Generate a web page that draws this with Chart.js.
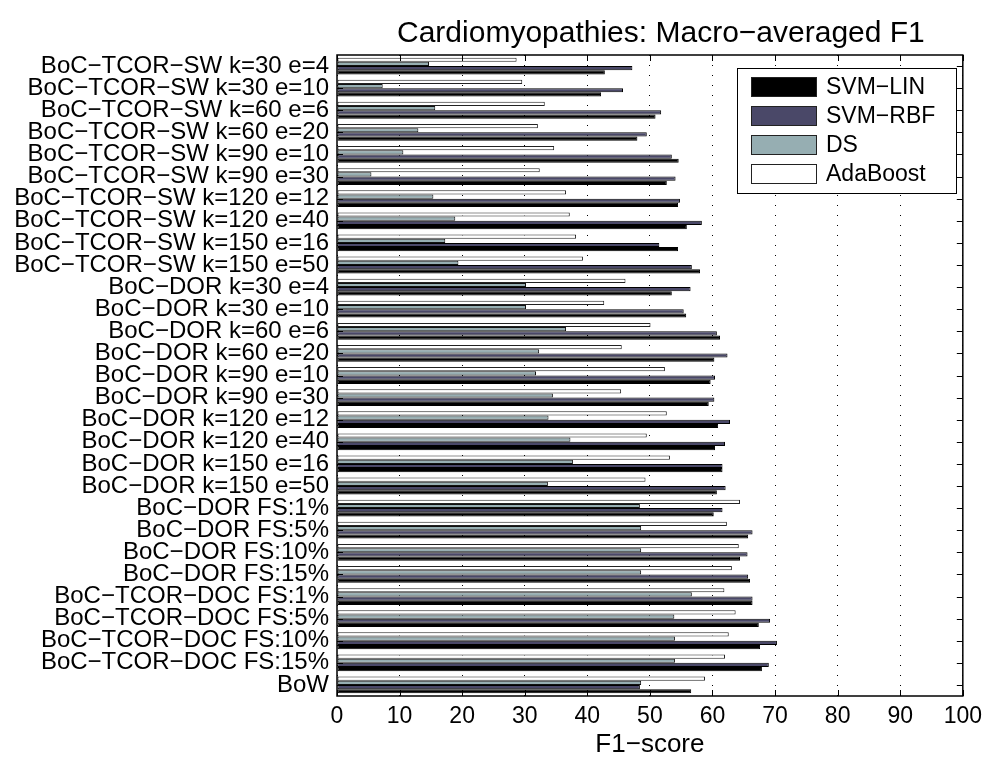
<!DOCTYPE html>
<html>
<head>
<meta charset="utf-8">
<script src="https://cdn.jsdelivr.net/npm/chart.js@4/dist/chart.umd.min.js"></script>
<style>
  html, body { margin: 0; padding: 0; background: #fff; }
  #wrap { width: 989px; height: 764px; position: relative; }
</style>
</head>
<body>
<div id="wrap"><canvas id="c" width="989" height="764"></canvas></div>
<script>
const chartTitle = "Cardiomyopathies: Macro\u2212averaged F1";
const xAxisTitle = "F1\u2212score";

const categories = [
  "BoC\u2212TCOR\u2212SW k=30 e=4",
  "BoC\u2212TCOR\u2212SW k=30 e=10",
  "BoC\u2212TCOR\u2212SW k=60 e=6",
  "BoC\u2212TCOR\u2212SW k=60 e=20",
  "BoC\u2212TCOR\u2212SW k=90 e=10",
  "BoC\u2212TCOR\u2212SW k=90 e=30",
  "BoC\u2212TCOR\u2212SW k=120 e=12",
  "BoC\u2212TCOR\u2212SW k=120 e=40",
  "BoC\u2212TCOR\u2212SW k=150 e=16",
  "BoC\u2212TCOR\u2212SW k=150 e=50",
  "BoC\u2212DOR k=30 e=4",
  "BoC\u2212DOR k=30 e=10",
  "BoC\u2212DOR k=60 e=6",
  "BoC\u2212DOR k=60 e=20",
  "BoC\u2212DOR k=90 e=10",
  "BoC\u2212DOR k=90 e=30",
  "BoC\u2212DOR k=120 e=12",
  "BoC\u2212DOR k=120 e=40",
  "BoC\u2212DOR k=150 e=16",
  "BoC\u2212DOR k=150 e=50",
  "BoC\u2212DOR FS:1%",
  "BoC\u2212DOR FS:5%",
  "BoC\u2212DOR FS:10%",
  "BoC\u2212DOR FS:15%",
  "BoC\u2212TCOR\u2212DOC FS:1%",
  "BoC\u2212TCOR\u2212DOC FS:5%",
  "BoC\u2212TCOR\u2212DOC FS:10%",
  "BoC\u2212TCOR\u2212DOC FS:15%",
  "BoW"
];

const svmLin   = [42.8, 42.2, 50.9, 48.0, 54.6, 52.7, 54.5, 55.9, 54.5, 58.0,
                  53.5, 55.8, 61.2, 60.3, 59.7, 59.4, 60.9, 60.4, 61.6, 60.7,
                  60.2, 65.7, 64.4, 66.0, 66.4, 67.4, 67.6, 67.9, 56.6];
const svmRbf   = [47.2, 45.7, 51.8, 49.5, 53.5, 54.1, 54.8, 58.3, 51.5, 56.7,
                  56.5, 55.4, 60.7, 62.4, 60.4, 60.3, 62.8, 62.0, 61.6, 62.1,
                  61.6, 66.4, 65.6, 65.7, 66.4, 69.2, 70.3, 69.0, 48.4];
const dsVals   = [14.7, 7.3, 15.7, 13.0, 10.6, 5.5, 15.4, 18.9, 17.3, 19.4,
                  30.2, 30.2, 36.6, 32.3, 31.8, 34.5, 33.8, 37.3, 37.7, 33.7,
                  48.4, 48.6, 48.6, 48.6, 56.7, 53.9, 54.0, 54.0, 48.6];
const adaBoost = [28.7, 29.6, 33.2, 32.1, 34.7, 32.4, 36.6, 37.2, 38.2, 39.3,
                  46.1, 42.7, 50.1, 45.5, 52.4, 45.4, 52.7, 49.5, 53.2, 49.3,
                  64.4, 62.3, 64.2, 63.1, 61.9, 63.7, 62.6, 62.0, 58.8];

const xTicks = [0, 10, 20, 30, 40, 50, 60, 70, 80, 90, 100];

const FONT = "'Liberation Sans', Arial, Helvetica, sans-serif";

const framePlugin = {
  id: 'frame',
  afterDatasetsDraw(chart) {
    const ctx = chart.ctx;
    const a = chart.chartArea;
    const xs = chart.scales.x;
    const ys = chart.scales.y;
    ctx.save();
    ctx.strokeStyle = '#000';
    ctx.lineWidth = 1;
    xTicks.forEach(v => {
      const px = Math.round(xs.getPixelForValue(v)) + 0.5;
      ctx.beginPath();
      ctx.moveTo(px, a.bottom); ctx.lineTo(px, a.bottom - 6);
      ctx.moveTo(px, a.top); ctx.lineTo(px, a.top + 6);
      ctx.stroke();
    });
    categories.forEach((c, i) => {
      const py = Math.round(ys.getPixelForValue(i)) + 0.5;
      ctx.beginPath();
      ctx.moveTo(a.left, py); ctx.lineTo(a.left + 6, py);
      ctx.moveTo(a.right, py); ctx.lineTo(a.right - 6, py);
      ctx.stroke();
    });
    ctx.lineWidth = 1.5;
    ctx.strokeRect(a.left, a.top, a.right - a.left, a.bottom - a.top);

    const lx = 737, ly = 68, lw = 219, lh = 125;
    ctx.fillStyle = '#fff';
    ctx.fillRect(lx, ly, lw, lh);
    ctx.lineWidth = 1;
    ctx.strokeStyle = '#000';
    ctx.strokeRect(lx + 0.5, ly + 0.5, lw, lh);
    const ds = chart.data.datasets.slice().reverse();
    ctx.font = '23px ' + FONT;
    ctx.textBaseline = 'middle';
    ctx.textAlign = 'left';
    ds.forEach((d, i) => {
      const cy = ly + 19 + i * 29;
      ctx.fillStyle = d.backgroundColor;
      ctx.fillRect(751, cy - 10, 66, 20);
      ctx.strokeStyle = '#222';
      ctx.strokeRect(751.5, cy - 9.5, 65, 19);
      ctx.fillStyle = '#000';
      ctx.fillText(d.label, 826, cy + 1);
    });

    ctx.font = '30px ' + FONT;
    ctx.textAlign = 'center';
    ctx.textBaseline = 'middle';
    ctx.fillStyle = '#000';
    ctx.fillText(chartTitle, (a.left + a.right) / 2 + 11, 34);
    ctx.restore();
  }
};

new Chart(document.getElementById('c'), {
  type: 'bar',
  data: {
    labels: categories,
    datasets: [
      { label: 'AdaBoost', data: adaBoost, backgroundColor: '#ffffff', borderColor: '#222', borderWidth: 1, borderSkipped: false },
      { label: 'DS', data: dsVals, backgroundColor: '#96aeb2', borderColor: '#111', borderWidth: 1, borderSkipped: false },
      { label: 'SVM\u2212RBF', data: svmRbf, backgroundColor: '#4a4868', borderColor: '#000', borderWidth: 1, borderSkipped: false },
      { label: 'SVM\u2212LIN', data: svmLin, backgroundColor: '#000000', borderColor: '#000', borderWidth: 1, borderSkipped: false }
    ]
  },
  options: {
    indexAxis: 'y',
    responsive: false,
    animation: false,
    devicePixelRatio: 1,
    layout: { padding: { top: 55, right: 24, left: 0, bottom: 0 } },
    datasets: { bar: { categoryPercentage: 0.76, barPercentage: 1.0 } },
    plugins: {
      legend: { display: false },
      title: { display: false },
      tooltip: { enabled: false }
    },
    scales: {
      x: {
        type: 'linear',
        position: 'bottom',
        min: 0, max: 100,
        afterFit(s) { s.height = 68; },
        afterBuildTicks(s) { s.ticks = xTicks.map(v => ({ value: v })); },
        ticks: { font: { family: FONT, size: 23 }, color: '#000', padding: 7, maxRotation: 0 },
        grid: { display: true, color: '#000', lineWidth: 1, drawTicks: false },
        border: { display: false, dash: [1, 9] },
        title: { display: true, text: xAxisTitle, font: { family: FONT, size: 26 }, color: '#000', padding: { top: 0, bottom: 4 } }
      },
      y: {
        type: 'category',
        position: 'left',
        afterFit(s) { s.width = 337; },
        ticks: { font: { family: FONT, size: 24 }, color: '#000', padding: 8, autoSkip: false },
        grid: { display: false, drawTicks: false },
        border: { display: false }
      }
    }
  },
  plugins: [framePlugin]
});
</script>
</body>
</html>
